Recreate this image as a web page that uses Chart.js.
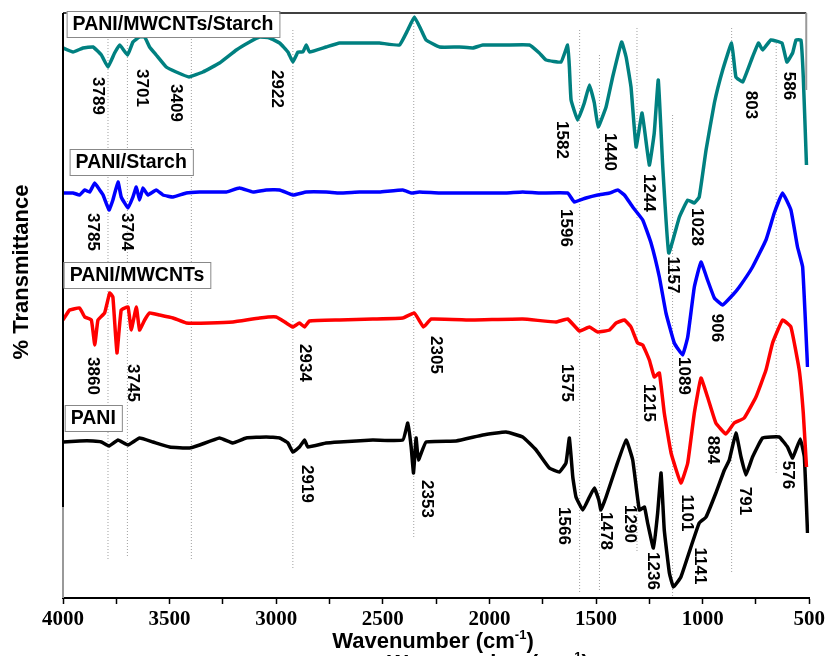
<!DOCTYPE html>
<html>
<head>
<meta charset="utf-8">
<script src="https://cdn.jsdelivr.net/npm/chart.js@4.4.1/dist/chart.umd.min.js"></script>
<style>
	html, body { margin: 0; padding: 0; background: #fff; }
	canvas { display: block; }
</style>
</head>
<body>
<canvas id="ftirChart" width="828" height="656"></canvas>
<script>
// wavenumber (cm-1) and offset transmittance for each spectrum
const tealWn = [4000, 3953, 3906, 3859, 3820, 3789, 3758, 3734, 3697, 3672, 3641, 3617, 3594, 3563, 3516, 3469, 3409, 3344, 3266, 3187, 3125, 3078, 3031, 2984, 2945, 2922, 2898, 2875, 2859, 2844, 2766, 2703, 2609, 2516, 2422, 2383, 2352, 2320, 2297, 2234, 2141, 2078, 2031, 1922, 1812, 1766, 1734, 1664, 1633, 1625, 1617, 1586, 1555, 1531, 1508, 1490, 1453, 1422, 1380, 1359, 1336, 1312, 1284, 1250, 1227, 1208, 1187, 1159, 1109, 1070, 1039, 1016, 984, 945, 906, 864, 844, 812, 766, 738, 719, 680, 628, 605, 578, 562, 539, 528, 513];
const tealT = [550, 546, 550, 551, 543, 531, 545, 553, 543, 556, 561, 561, 551, 543, 531, 526, 521, 526, 535, 548, 556, 561, 560, 555, 546, 536, 546, 546, 553, 546, 551, 555, 555, 555, 553, 568, 581, 568, 558, 551, 551, 550, 553, 553, 553, 545, 538, 536, 553, 531, 498, 478, 495, 513, 495, 471, 491, 521, 556, 541, 511, 451, 485, 433, 465, 518, 431, 345, 381, 398, 395, 401, 448, 495, 528, 555, 521, 516, 541, 555, 548, 558, 555, 536, 545, 558, 558, 521, 433];

const blueWn = [4000, 3953, 3922, 3898, 3875, 3851, 3828, 3812, 3784, 3766, 3742, 3727, 3695, 3672, 3656, 3641, 3625, 3602, 3563, 3531, 3484, 3422, 3359, 3297, 3234, 3172, 3109, 3047, 2984, 2922, 2859, 2766, 2703, 2609, 2516, 2406, 2367, 2328, 2234, 2078, 1922, 1844, 1766, 1633, 1602, 1547, 1492, 1437, 1398, 1367, 1328, 1281, 1242, 1203, 1172, 1133, 1094, 1070, 1039, 1008, 977, 945, 906, 859, 828, 766, 703, 664, 625, 586, 555, 531, 508];
const blueT = [405, 405, 403, 408, 406, 415, 408, 403, 388, 398, 416, 401, 390, 401, 411, 398, 410, 403, 408, 403, 401, 405, 406, 406, 406, 410, 406, 408, 408, 403, 406, 406, 405, 406, 406, 408, 405, 406, 405, 405, 405, 406, 405, 405, 396, 400, 403, 405, 408, 403, 391, 378, 355, 321, 285, 255, 243, 261, 311, 336, 318, 300, 293, 303, 311, 331, 358, 385, 405, 388, 351, 331, 231];

const redWn = [4000, 3969, 3922, 3898, 3867, 3851, 3836, 3805, 3781, 3766, 3747, 3727, 3695, 3680, 3656, 3641, 3617, 3594, 3547, 3484, 3422, 3312, 3203, 3078, 3000, 2953, 2922, 2891, 2867, 2844, 2703, 2547, 2406, 2352, 2309, 2273, 2078, 1844, 1688, 1633, 1578, 1531, 1492, 1437, 1406, 1367, 1336, 1305, 1281, 1250, 1227, 1203, 1180, 1148, 1102, 1070, 1039, 1008, 977, 938, 891, 852, 805, 750, 703, 672, 625, 586, 547, 528, 513];
const redT = [278, 288, 290, 281, 278, 253, 278, 285, 305, 301, 245, 288, 291, 268, 291, 268, 278, 285, 283, 280, 275, 275, 276, 280, 281, 275, 271, 275, 271, 277, 278, 279, 280, 285, 271, 279, 278, 279, 276, 279, 267, 271, 266, 268, 275, 278, 271, 255, 253, 238, 221, 225, 185, 145, 115, 135, 185, 220, 201, 175, 164, 175, 180, 201, 228, 255, 278, 271, 228, 185, 131];

const blackWn = [4000, 3922, 3859, 3820, 3784, 3742, 3695, 3641, 3578, 3500, 3406, 3359, 3266, 3203, 3141, 3047, 2984, 2945, 2922, 2891, 2867, 2852, 2766, 2703, 2547, 2406, 2383, 2367, 2356, 2344, 2333, 2297, 2156, 2031, 1922, 1844, 1781, 1719, 1672, 1641, 1625, 1609, 1594, 1562, 1531, 1508, 1487, 1477, 1453, 1406, 1359, 1328, 1297, 1273, 1258, 1231, 1211, 1195, 1180, 1156, 1137, 1102, 1055, 1016, 984, 938, 898, 875, 844, 820, 797, 766, 719, 641, 602, 578, 542, 523, 508];
const blackT = [156, 157, 157, 156, 152, 158, 153, 160, 156, 151, 150, 153, 160, 155, 160, 161, 160, 155, 146, 151, 158, 151, 155, 156, 158, 158, 175, 151, 125, 160, 138, 156, 157, 163, 166, 161, 148, 130, 126, 135, 160, 121, 101, 88, 101, 110, 98, 88, 101, 131, 158, 138, 88, 91, 75, 50, 85, 125, 68, 25, 11, 21, 51, 75, 81, 105, 128, 138, 165, 141, 123, 141, 160, 161, 151, 140, 159, 141, 65];

const seriesNames = ["PANI/MWCNTs/Starch", "PANI/Starch", "PANI/MWCNTs", "PANI"];
const seriesColors = ["#008080", "#0000ff", "#ff0000", "#000000"];

// dotted guide lines: wavenumber, top and bottom
const guideWn = [3789, 3698, 3398, 2922, 2355, 1577, 1484, 1308, 1141, 864, 655];
const guideTop = [568, 568, 568, 568, 578, 568, 543, 570, 483, 570, 555];
const guideBottom = [38, 41, 38, 29, 61, 6, 6, 45, 0, 26, 125];

// peak labels: text, wavenumber of centre, height of centre
const peakText = ["3789", "3701", "3409", "2922", "1582", "1440", "1244", "1157", "1028", "803", "586",
	"3785", "3704", "1596", "906", "1089",
	"3860", "3745", "2934", "2305", "1575", "1215", "884", "1101",
	"2919", "2353", "1566", "1478", "1290", "1236", "1141", "791", "576"];
const peakWn = [3836, 3632, 3473, 2997, 1659, 1437, 1253, 1141, 1028, 773, 598,
	3862, 3703, 1640, 934, 1090,
	3862, 3675, 2867, 2250, 1637, 1253, 953, 1075,
	2859, 2294, 1653, 1453, 1344, 1234, 1015, 805, 601];
const peakY = [502, 510, 495, 509, 458, 446, 405, 323, 371, 493, 512,
	366, 366, 370, 270, 222,
	222, 215, 235, 243, 215, 195, 148, 85,
	114, 99, 72, 67, 74, 27, 32, 97, 123];

// name boxes: left wavenumber, centre height
const boxWn = [3983, 3969, 3997, 3992];
const boxY = [574, 436, 323, 180];

const spectra = [[tealWn, tealT], [blueWn, blueT], [redWn, redT], [blackWn, blackT]];

const datasets = spectra.map(([wn, t], i) => ({
	label: seriesNames[i],
	data: wn.map((x, k) => ({ x: x, y: t[k] })),
	borderColor: seriesColors[i],
	borderWidth: 3.5,
	pointRadius: 0,
	tension: 0.1,
	fill: false,
	order: 1,
}));

guideWn.forEach((wn, i) => {
	datasets.push({
		label: "guide" + i,
		data: [{ x: wn, y: guideTop[i] }, { x: wn, y: guideBottom[i] }],
		borderColor: "#a0a0a0",
		borderWidth: 1,
		borderDash: [1, 2],
		pointRadius: 0,
		order: 2,
	});
});

const annotations = {
	id: "annotations",
	afterDatasetsDraw(chart) {
		const ctx = chart.ctx;
		const xs = chart.scales.x, ys = chart.scales.y;
		const area = chart.chartArea;

		// frame
		ctx.save();
		ctx.lineWidth = 1.5;
		ctx.strokeStyle = "#000";
		ctx.beginPath();
		ctx.moveTo(area.left, area.top);
		ctx.lineTo(area.right - 3, area.top);
		ctx.stroke();
		ctx.lineWidth = 2;
		ctx.beginPath();
		ctx.moveTo(area.left, area.top);
		ctx.lineTo(area.left, 507);
		ctx.stroke();
		ctx.strokeStyle = "#999";
		ctx.beginPath();
		ctx.moveTo(area.left, 507);
		ctx.lineTo(area.left, area.bottom);
		ctx.stroke();
		ctx.beginPath();
		ctx.moveTo(area.right - 3, area.top);
		ctx.lineTo(area.right - 3, 90);
		ctx.stroke();
		ctx.restore();

		// peak labels
		ctx.save();
		ctx.fillStyle = "#000";
		ctx.font = "bold 17px 'Liberation Sans', Arial, sans-serif";
		ctx.textAlign = "center";
		ctx.textBaseline = "middle";
		peakText.forEach((txt, i) => {
			ctx.save();
			ctx.translate(xs.getPixelForValue(peakWn[i]), ys.getPixelForValue(peakY[i]));
			ctx.rotate(Math.PI / 2);
			ctx.fillText(txt, 0, 0);
			ctx.restore();
		});
		ctx.restore();

		// name boxes
		ctx.save();
		ctx.font = "bold 19.5px 'Liberation Sans', Arial, sans-serif";
		ctx.textBaseline = "middle";
		ctx.textAlign = "left";
		seriesNames.forEach((name, i) => {
			const x = xs.getPixelForValue(boxWn[i]);
			const y = ys.getPixelForValue(boxY[i]);
			const w = ctx.measureText(name).width + 12;
			ctx.fillStyle = "#fff";
			ctx.fillRect(x, y - 13, w, 26);
			ctx.strokeStyle = "#888";
			ctx.lineWidth = 1;
			ctx.strokeRect(x + 0.5, y - 12.5, w, 26);
			ctx.fillStyle = "#000";
			ctx.fillText(name, x + 6, y + 1);
		});
		ctx.restore();

		// axis titles
		ctx.save();
		ctx.fillStyle = "#000";
		ctx.font = "bold 22px 'Liberation Sans', Arial, sans-serif";
		ctx.textAlign = "center";
		ctx.textBaseline = "middle";
		ctx.translate(22, 272);
		ctx.rotate(-Math.PI / 2);
		ctx.fillText("% Transmittance", 0, 0);
		ctx.restore();

		const drawXTitle = (cx, baseline) => {
			ctx.save();
			ctx.fillStyle = "#000";
			ctx.textBaseline = "alphabetic";
			ctx.textAlign = "left";
			const big = "bold 22px 'Liberation Sans', Arial, sans-serif";
			const small = "bold 13px 'Liberation Sans', Arial, sans-serif";
			ctx.font = big;
			const a = ctx.measureText("Wavenumber (cm").width;
			const c = ctx.measureText(")").width;
			ctx.font = small;
			const b = ctx.measureText("-1").width;
			let x = cx - (a + b + c) / 2;
			ctx.font = big;
			ctx.fillText("Wavenumber (cm", x, baseline);
			x += a;
			ctx.font = small;
			ctx.fillText("-1", x, baseline - 9);
			x += b;
			ctx.font = big;
			ctx.fillText(")", x, baseline);
			ctx.restore();
		};
		drawXTitle(433, 648);
		drawXTitle(488, 670);
	},
};

new Chart("ftirChart", {
	type: "line",
	data: { datasets },
	plugins: [annotations],
	options: {
		responsive: false,
		animation: false,
		devicePixelRatio: 1,
		layout: { padding: { left: 63, right: 18, top: 13, bottom: 0 } },
		plugins: { legend: { display: false }, tooltip: { enabled: false } },
		scales: {
			x: {
				type: "linear",
				reverse: true,
				min: 500,
				max: 4000,
				afterFit: (scale) => { scale.height = 58; },
				grid: { drawOnChartArea: false, drawTicks: true, tickLength: 6, tickColor: "#000", tickWidth: 1.5 },
				border: { display: true, color: "#000", width: 2 },
				ticks: {
					stepSize: 250,
					autoSkip: false,
					maxRotation: 0,
					padding: 3,
					color: "#000",
					font: { family: "'Liberation Serif', 'Times New Roman', serif", size: 21, weight: "bold" },
					callback: (v) => (v % 500 === 0 ? v : ""),
				},
			},
			y: {
				display: false,
				min: 0,
				max: 585,
			},
		},
	},
});
</script>
</body>
</html>
